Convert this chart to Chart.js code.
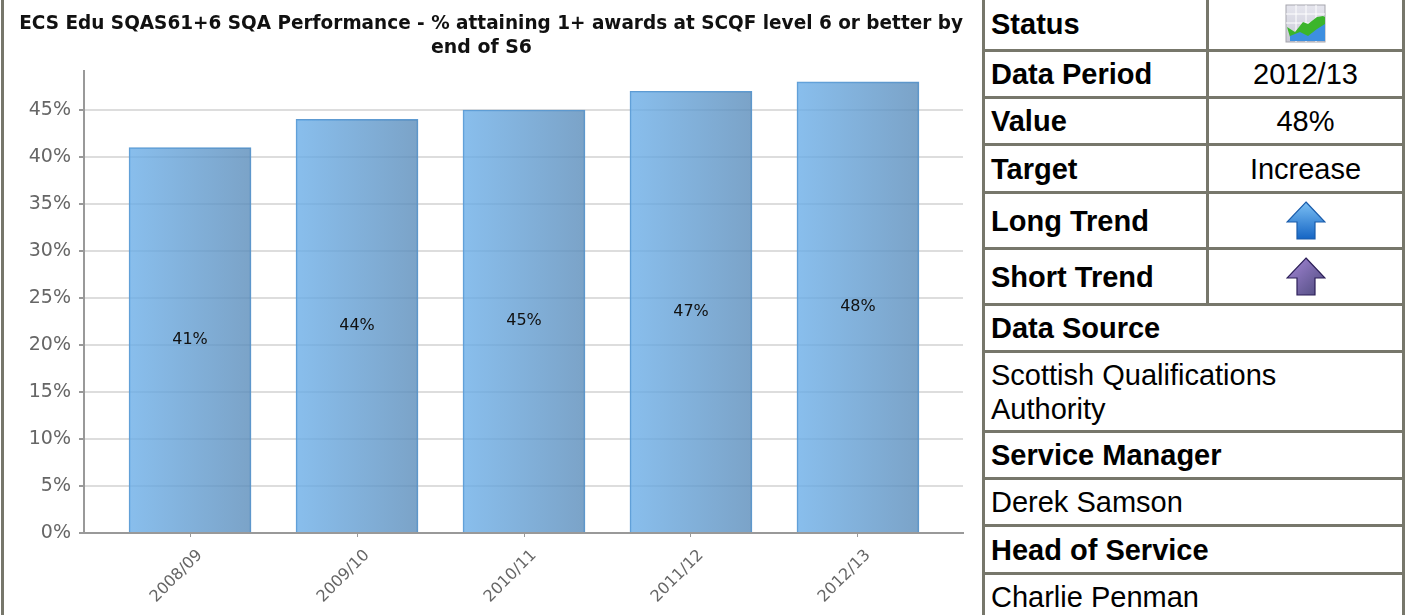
<!DOCTYPE html>
<html lang="en">
  <head>
    <meta charset="UTF-8" />
    <title>SQA Performance</title>
    <script src="https://cdn.jsdelivr.net/npm/chart.js@4"></script>
    <style>
      html, body { margin: 0; padding: 0; background: #fff; overflow: hidden; }
      body { width: 1405px; height: 615px; position: relative; }
      #leftBar { position: absolute; left: 1px; top: 0; width: 3px; height: 615px; background: #77776b; }
      #chartBox { position: absolute; left: 0; top: 0; width: 975px; height: 615px; }
      #info {
        position: absolute; left: 982px; top: -5px; width: 420px;
        border-collapse: collapse; table-layout: fixed;
        font: 29px/34px "Liberation Sans", Arial, sans-serif; color: #000;
      }
      #info td { border: 3px solid #77776b; padding: 0 0 0 6px; }
      #info td.val { text-align: center; padding: 0; }
      #info th { border: 3px solid #77776b; padding: 0 0 0 6px; text-align: left; font-weight: bold; }
      #info svg { display: block; margin: 0 auto; }
    </style>
  </head>
  <body>
    <div id="leftBar"></div>
    <div id="chartBox"><canvas id="chart" width="975" height="615"></canvas></div>

    <table id="info">
      <colgroup><col style="width:224px" /><col style="width:196px" /></colgroup>
      <tr style="height:54px">
        <th>Status</th>
        <td class="val">
          <svg width="42" height="40" viewBox="0 0 42 40">
            <defs>
              <linearGradient id="gridBg" x1="0" y1="0" x2="0" y2="1"><stop offset="0" stop-color="#e6e6ee" /><stop offset="1" stop-color="#c9c9d6" /></linearGradient>
            </defs>
            <rect x="1" y="1" width="39" height="37" fill="url(#gridBg)" stroke="#a5a5ad" />
            <path d="M11 1V38M21 1V38M31 1V38M1 10H40M1 19H40" stroke="#fff" fill="none" />
            <path d="M2 23L10 28L18 18L23 20L32 13L38 12L40 13V22L32 27L23 33L15 29L5 33Z" fill="#3bb52b" />
            <path d="M5 32L15 28L23 32L32 25L40 20V37H5Z" fill="#3d8fe0" />
          </svg>
        </td>
      </tr>
      <tr style="height:47px"><th>Data Period</th><td class="val">2012/13</td></tr>
      <tr style="height:47px"><th>Value</th><td class="val">48%</td></tr>
      <tr style="height:48px"><th>Target</th><td class="val">Increase</td></tr>
      <tr style="height:56px">
        <th>Long Trend</th>
        <td class="val">
          <svg width="40" height="40" viewBox="0 0 40 40">
            <defs>
              <linearGradient id="blueArrow" x1="0" y1="0" x2="0" y2="1"><stop offset="0" stop-color="#7cc0f4" /><stop offset="1" stop-color="#1565c4" /></linearGradient>
            </defs>
            <path d="M20 1L39 21H29V38H11V21H1Z" fill="url(#blueArrow)" stroke="#1a5cab" stroke-width="1.2" />
          </svg>
        </td>
      </tr>
      <tr style="height:56px">
        <th>Short Trend</th>
        <td class="val">
          <svg width="40" height="40" viewBox="0 0 40 40">
            <defs>
              <linearGradient id="purpleArrow" x1="0" y1="0" x2="1" y2="1"><stop offset="0" stop-color="#a587d8" /><stop offset="1" stop-color="#4d4a7c" /></linearGradient>
            </defs>
            <path d="M20 1L39 21H29V38H11V21H1Z" fill="url(#purpleArrow)" stroke="#2c1f58" stroke-width="1.2" />
          </svg>
        </td>
      </tr>
      <tr style="height:47px"><th colspan="2">Data Source</th></tr>
      <tr style="height:80px"><td colspan="2" style="vertical-align:top;padding-top:5px">Scottish Qualifications<br />Authority</td></tr>
      <tr style="height:47px"><th colspan="2">Service Manager</th></tr>
      <tr style="height:47px"><td colspan="2">Derek Samson</td></tr>
      <tr style="height:48px"><th colspan="2">Head of Service</th></tr>
      <tr style="height:47px"><td colspan="2">Charlie Penman</td></tr>
    </table>

    <script>
      const periods = ["2008/09", "2009/10", "2010/11", "2011/12", "2012/13"];
      const attaining = [41, 44, 45, 47, 48];
      const yTicks = [0, 5, 10, 15, 20, 25, 30, 35, 40, 45];
      const titleLines = ["   ECS Edu SQAS61+6 SQA Performance - % attaining 1+ awards at SCQF level 6 or better by", "end of S6"];

      const tickFont = '"DejaVu Sans", Tahoma, sans-serif';

      // bars fade left to right, a bit see-through so the grid shows
      function barFill(context) {
        const chart = context.chart;
        if (!chart.chartArea) return "rgba(107,174,230,0.8)";
        const cx = chart.scales.x.getPixelForValue(context.dataIndex);
        const g = chart.ctx.createLinearGradient(cx - 61, 0, cx + 61, 0);
        g.addColorStop(0, "rgba(107,174,232,0.8)");
        g.addColorStop(1, "rgba(90,140,186,0.8)");
        return g;
      }

      // value written in the middle of each bar
      const barLabels = {
        id: "barLabels",
        afterDatasetsDraw(chart) {
          const ctx = chart.ctx;
          ctx.save();
          ctx.font = "16px " + tickFont;
          ctx.fillStyle = "#111";
          ctx.textAlign = "center";
          ctx.textBaseline = "middle";
          chart.getDatasetMeta(0).data.forEach((bar, i) => {
            ctx.fillText(attaining[i] + "%", bar.x, (bar.y + bar.base) / 2);
          });
          ctx.restore();
        },
      };

      new Chart(document.getElementById("chart"), {
        type: "bar",
        plugins: [barLabels],
        data: {
          datasets: [
            {
              data: periods.map((p, i) => ({ x: i, y: attaining[i] })),
              backgroundColor: barFill,
              borderColor: "rgba(85,150,208,0.95)",
              borderWidth: 1,
              borderSkipped: "bottom",
              barThickness: 122,
            },
          ],
        },
        options: {
          responsive: false,
          animation: false,
          layout: { padding: { left: 0, right: 12, top: 0, bottom: 0 } },
          plugins: {
            legend: { display: false },
            tooltip: { enabled: false },
            title: {
              display: true,
              text: titleLines,
              color: "#111",
              font: { family: tickFont, size: 18.9, weight: "bold", lineHeight: 1.27 },
              padding: { top: 12, bottom: 11 },
            },
          },
          scales: {
            x: {
              type: "linear",
              offset: false,
              min: -0.635,
              max: 4.629,
              afterBuildTicks(scale) {
                scale.ticks = periods.map((p, i) => ({ value: i }));
              },
              afterFit(scale) {
                scale.height = 82;
              },
              grid: { offset: false, drawOnChartArea: false, color: "#999", tickLength: 4 },
              border: { color: "#999", width: 2 },
              ticks: {
                autoSkip: false,
                minRotation: 45,
                maxRotation: 45,
                labelOffset: 10,
                padding: 9,
                color: "#666",
                font: { family: tickFont, size: 16 },
                callback: (v) => periods[v],
              },
            },
            y: {
              min: 0,
              max: 49.15,
              afterBuildTicks(scale) {
                scale.ticks = yTicks.map((v) => ({ value: v }));
              },
              afterFit(scale) {
                scale.width = 84;
              },
              grid: { color: "#ddd", lineWidth: 2, tickLength: 5, tickColor: "#999" },
              border: { color: "#999", width: 2 },
              ticks: {
                padding: 8,
                color: "#666",
                font: { family: tickFont, size: 19 },
                callback: (v) => v + "%",
              },
            },
          },
        },
      });
    </script>
  </body>
</html>
